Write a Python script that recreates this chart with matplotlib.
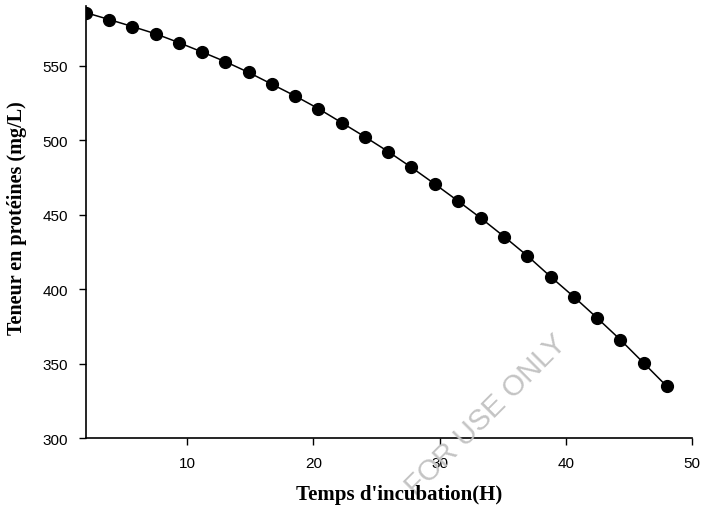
import matplotlib
matplotlib.use("Agg")
import matplotlib.pyplot as plt

# temps d'incubation (h) et teneur en protéines (mg/L)
temps = [2.0, 3.84, 5.68, 7.52, 9.36, 11.2, 13.04, 14.88, 16.72, 18.56,
         20.4, 22.24, 24.08, 25.92, 27.76, 29.6, 31.44, 33.28, 35.12, 36.96,
         38.8, 40.64, 42.48, 44.32, 46.16, 48.0]
proteines = [585.6, 581.0, 576.3, 571.4, 565.5, 559.2, 552.7, 545.5, 537.6, 529.7,
             521.2, 511.8, 502.3, 492.4, 481.8, 470.7, 459.3, 447.6, 435.2, 422.3,
             408.3, 394.8, 380.6, 366.0, 350.4, 334.7]

xticks = [10, 20, 30, 40, 50]
yticks = [300, 350, 400, 450, 500, 550]

fig = plt.figure(figsize=(7.02, 5.10), dpi=100)
ax = fig.add_axes([0.1225, 0.139, 0.8635, 0.847])

ax.plot(temps, proteines, color="black", linewidth=1.1,
        marker="o", markersize=8.5, markerfacecolor="black", markeredgecolor="black")

ax.set_xlim(2, 50)
ax.set_ylim(300, 590)
ax.set_xticks(xticks)
ax.set_yticks(yticks)

for s in ["top", "right"]:
    ax.spines[s].set_visible(False)
for s in ["left", "bottom"]:
    ax.spines[s].set_linewidth(1.2)

ax.tick_params(direction="out", length=5, width=1, labelsize=11, pad=8)
for lab in ax.get_xticklabels() + ax.get_yticklabels():
    lab.set_family("Liberation Sans")

fig.text(0.568, 0.03, "Temps d'incubation(H)", ha="center", va="center",
         family="Liberation Serif", fontweight="bold", fontsize=15)
fig.text(0.024, 0.572, "Teneur en protéines (mg/L)", ha="center", va="center",
         rotation=90, family="Liberation Serif", fontweight="bold", fontsize=14.5)

# filigrane
fig.text(0.692, 0.186, "FOR USE ONLY", ha="center", va="center", rotation=45,
         family="Liberation Sans", fontsize=21, color="#c4c4c4", zorder=0)

fig.savefig("out.png", dpi=100)
